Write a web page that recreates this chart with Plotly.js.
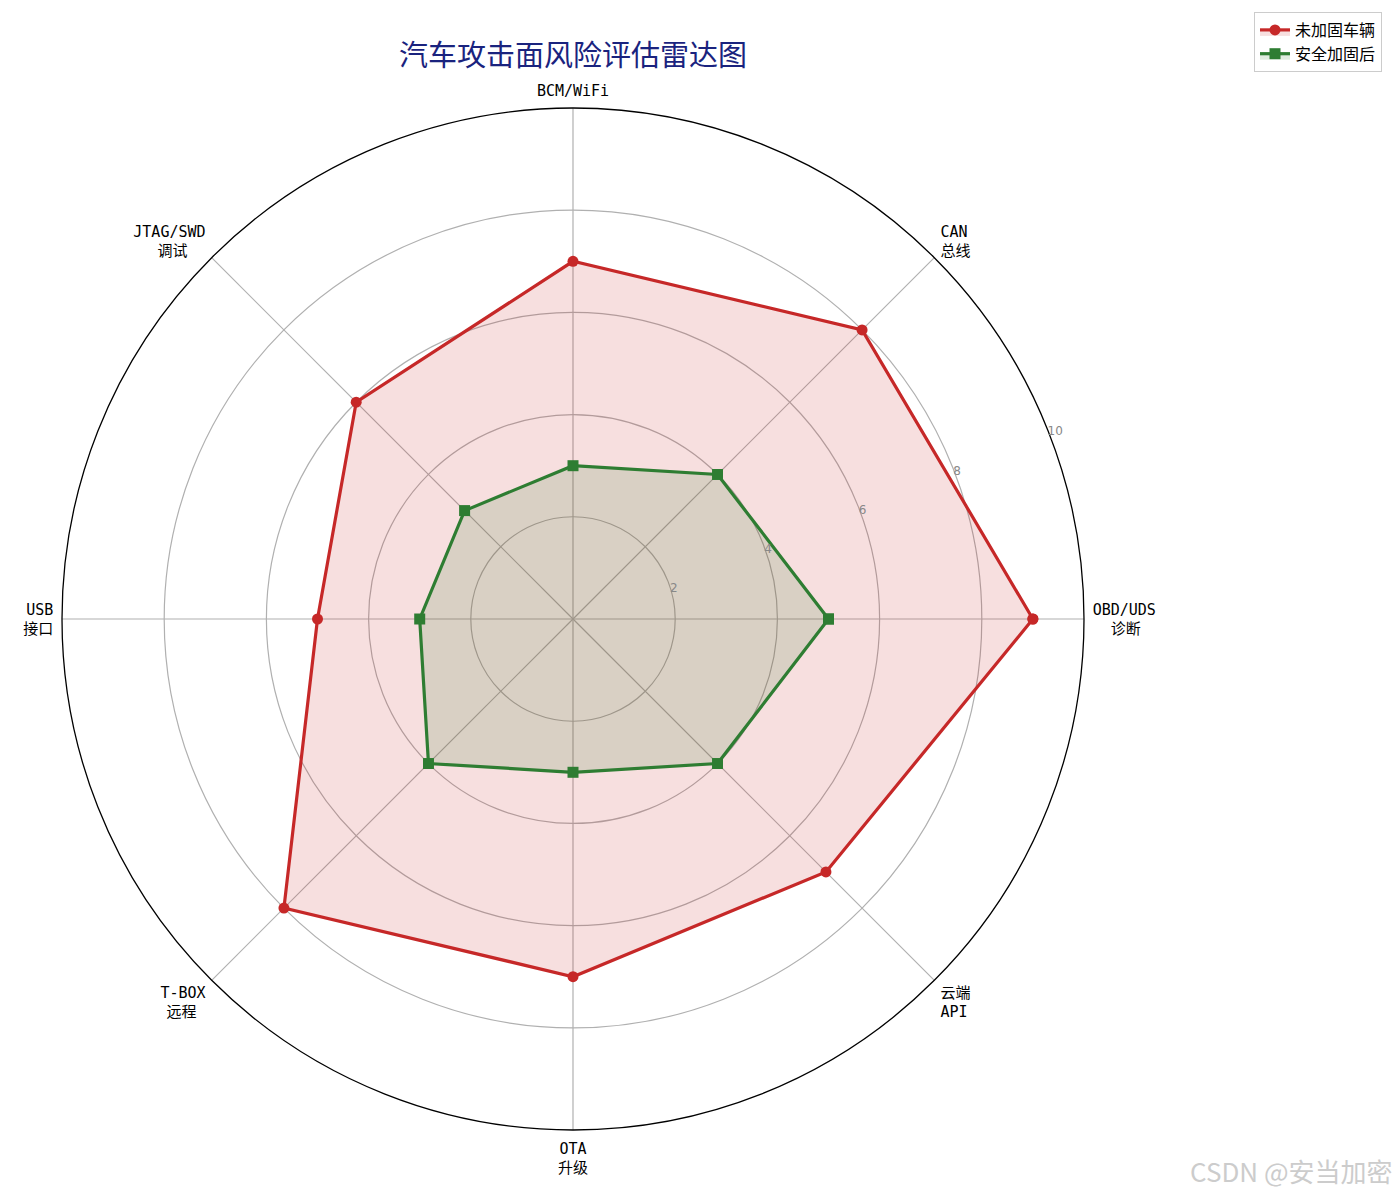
<!DOCTYPE html>
<html>
<head>
<meta charset="utf-8">
<script src="https://cdn.plot.ly/plotly-3.0.1.min.js"></script>
<style>html,body{margin:0;padding:0;background:#fff;}#chart{width:1397px;height:1194px;}</style>
</head>
<body>
<div id="chart"></div>
<script>
const categories = ['OBD/UDS', 'CAN', 'BCM/WiFi', 'JTAG/SWD', 'USB', 'T-BOX', 'OTA', '云端'];
const categoryLabels = [
  'OBD/UDS<br>\u00a0\u00a0诊断',
  'CAN<br>总线',
  'BCM/WiFi',
  'JTAG/SWD<br>调试\u00a0\u00a0',
  'USB<br>接口',
  'T-BOX<br>远程\u00a0',
  'OTA<br>升级',
  '云端<br>API'
];
const unhardened = [9, 8, 7, 6, 5, 8, 7, 7];
const hardened = [5, 4, 3, 3, 3, 4, 3, 4];
const radialTicks = [2, 4, 6, 8, 10];
const seriesNames = ['未加固车辆', '安全加固后'];

function closeLoop(a) { return a.concat([a[0]]); }

const traces = [
  {
    type: 'scatterpolar',
    name: seriesNames[0],
    r: closeLoop(unhardened),
    theta: closeLoop(categories),
    mode: 'lines+markers',
    line: {color: '#c62828', width: 3.2},
    marker: {color: '#c62828', size: 11, symbol: 'circle'},
    fill: 'toself',
    fillcolor: 'rgba(198,40,40,0.15)'
  },
  {
    type: 'scatterpolar',
    name: seriesNames[1],
    r: closeLoop(hardened),
    theta: closeLoop(categories),
    mode: 'lines+markers',
    line: {color: '#2e7d32', width: 3.2},
    marker: {color: '#2e7d32', size: 11, symbol: 'square'},
    fill: 'toself',
    fillcolor: 'rgba(46,125,50,0.15)'
  }
];

const catFont = 'DejaVu Sans Mono, "Noto Sans CJK SC", monospace';

const layout = {
  width: 1397, height: 1194,
  margin: {l: 0, r: 0, t: 0, b: 0},
  paper_bgcolor: '#fff',
  showlegend: true,
  title: {
    text: '汽车攻击面风险评估雷达图',
    x: 573/1397, xanchor: 'center',
    y: 1 - 56/1194, yanchor: 'middle',
    font: {family: '"Noto Sans CJK SC", sans-serif', size: 29, color: '#1a237e'}
  },
  legend: {
    x: 1382/1397, xanchor: 'right',
    y: 1 - 12/1194, yanchor: 'top',
    bgcolor: '#fff', bordercolor: '#cccccc', borderwidth: 1,
    font: {family: '"Noto Sans CJK SC", sans-serif', size: 16, color: '#000'},
    tracegroupgap: 2
  },
  polar: {
    domain: {x: [62/1397, 1084/1397], y: [(1194-1130)/1194, (1194-108)/1194]},
    bgcolor: '#fff',
    angularaxis: {
      type: 'category',
      direction: 'counterclockwise',
      rotation: 0,
      showline: true,
      linecolor: '#000',
      linewidth: 1.3,
      showgrid: true,
      gridcolor: '#b0b0b0',
      gridwidth: 1.2,
      ticks: 'outside',
      ticklen: 5,
      tickcolor: 'rgba(0,0,0,0)',
      tickmode: 'array',
      tickvals: categories,
      ticktext: categoryLabels,
      tickfont: {family: catFont, size: 15, color: '#000'}
    },
    radialaxis: {
      range: [0, 10],
      tickvals: radialTicks,
      ticktext: radialTicks.map(String),
      angle: 22.5,
      tickangle: 22.5,
      showline: false,
      ticks: '',
      showgrid: true,
      gridcolor: '#b0b0b0',
      gridwidth: 1.2,
      tickfont: {family: 'DejaVu Sans, sans-serif', size: 12, color: '#888'}
    }
  },
  annotations: [
    {
      text: 'CSDN @安当加密',
      xref: 'paper', yref: 'paper',
      x: 1395/1397, xanchor: 'right',
      y: 1 - 1170/1194, yanchor: 'middle',
      showarrow: false,
      font: {family: '"Noto Sans CJK SC", sans-serif', size: 26, color: '#cccccc'}
    }
  ]
};

Plotly.newPlot('chart', traces, layout, {displayModeBar: false, staticPlot: true});
</script>
</body>
</html>
